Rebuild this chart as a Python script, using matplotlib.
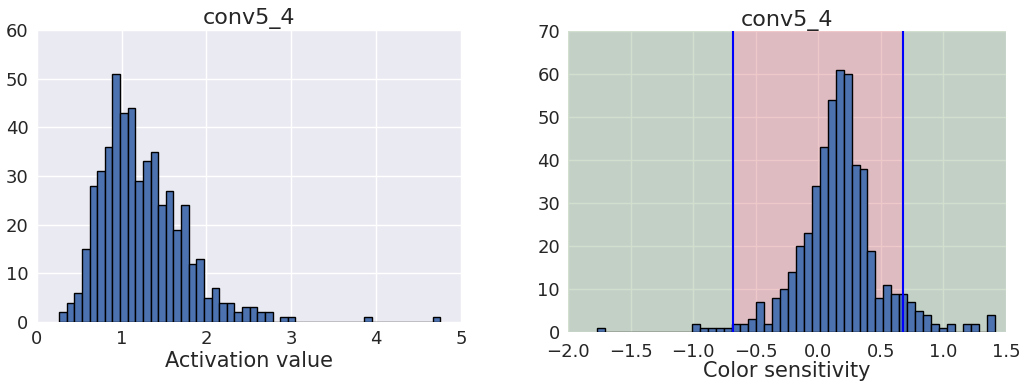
import numpy as np
import matplotlib
matplotlib.use('Agg')
import matplotlib.pyplot as plt

# 왼쪽: conv5_4 필터별 활성값 히스토그램 (50 bins, 512 filters)
act_counts = [2, 4, 6, 15, 28, 31, 36, 51, 43, 44,
              29, 33, 35, 24, 27, 19, 24, 12, 13, 5,
              7, 4, 4, 2, 3, 3, 2, 2, 0, 1,
              1, 0, 0, 0, 0, 0, 0, 0, 0, 0,
              1, 0, 0, 0, 0, 0, 0, 0, 0, 1]
act_range = (0.263, 4.757)

# 오른쪽: 색 민감도 히스토그램
sens_counts = [1, 0, 0, 0, 0, 0, 0, 0, 0, 0,
               0, 0, 2, 1, 1, 1, 1, 2, 2, 3,
               7, 2, 8, 10, 14, 20, 23, 34, 43, 54,
               61, 60, 39, 38, 19, 8, 11, 9, 9, 7,
               5, 4, 2, 1, 2, 0, 2, 2, 0, 4]
sens_range = (-1.77, 1.41)
sens_thresh = 0.68

bar_color = '#4C72B0'

plt.rcParams['font.family'] = 'DejaVu Sans'
plt.rcParams['axes.unicode_minus'] = True


def draw_hist(ax, counts, lo, hi):
    edges = np.linspace(lo, hi, len(counts) + 1)
    ax.hist(edges[:-1], bins=edges, weights=counts, color=bar_color,
            edgecolor='black', linewidth=1, zorder=3)


def style_axes(ax):
    ax.set_facecolor('#EAEAF2')
    ax.grid(True, color='white', linewidth=1, zorder=0)
    ax.set_axisbelow(True)
    for s in ax.spines.values():
        s.set_visible(False)
    ax.tick_params(length=0, labelsize=13, colors='#262626', pad=6)


fig = plt.figure(figsize=(10.28, 3.91), dpi=100)
ax1 = fig.add_axes([0.0357, 0.1765, 0.4127, 0.7468])
ax2 = fig.add_axes([0.5528, 0.1501, 0.4258, 0.7699])

# 왼쪽 그래프
style_axes(ax1)
draw_hist(ax1, act_counts, *act_range)
ax1.set_xlim(0, 5)
ax1.set_ylim(0, 60)
ax1.set_xticks([0, 1, 2, 3, 4, 5])
ax1.set_yticks(range(0, 61, 10))
ax1.set_title('conv5_4', fontsize=16, color='#262626', pad=4)
ax1.set_xlabel('Activation value', fontsize=15, color='#262626', labelpad=2)

# 오른쪽 그래프 (임계값 구간 음영)
style_axes(ax2)
ax2.tick_params(axis='y', pad=6)
ax2.tick_params(axis='x', pad=8)
ax2.axvspan(-2.0, -sens_thresh, color='#6B9763', alpha=0.3, lw=0, zorder=1)
ax2.axvspan(-sens_thresh, sens_thresh, color='#C44E52', alpha=0.3, lw=0, zorder=1)
ax2.axvspan(sens_thresh, 1.5, color='#6B9763', alpha=0.3, lw=0, zorder=1)
draw_hist(ax2, sens_counts, *sens_range)
ax2.axvline(-sens_thresh, color='blue', linewidth=1.5, zorder=4)
ax2.axvline(sens_thresh, color='blue', linewidth=1.5, zorder=4)
ax2.set_xlim(-2.0, 1.5)
ax2.set_ylim(0, 70)
ax2.set_xticks(np.arange(-2.0, 1.51, 0.5))
ax2.set_xticklabels(['\u22122.0', '\u22121.5', '\u22121.0', '\u22120.5', '0.0', '0.5', '1.0', '1.5'])
ax2.set_yticks(range(0, 71, 10))
ax2.set_title('conv5_4', fontsize=16, color='#262626', pad=4)
ax2.set_xlabel('Color sensitivity', fontsize=15, color='#262626', labelpad=0)

fig.savefig('out.png', dpi=100)
